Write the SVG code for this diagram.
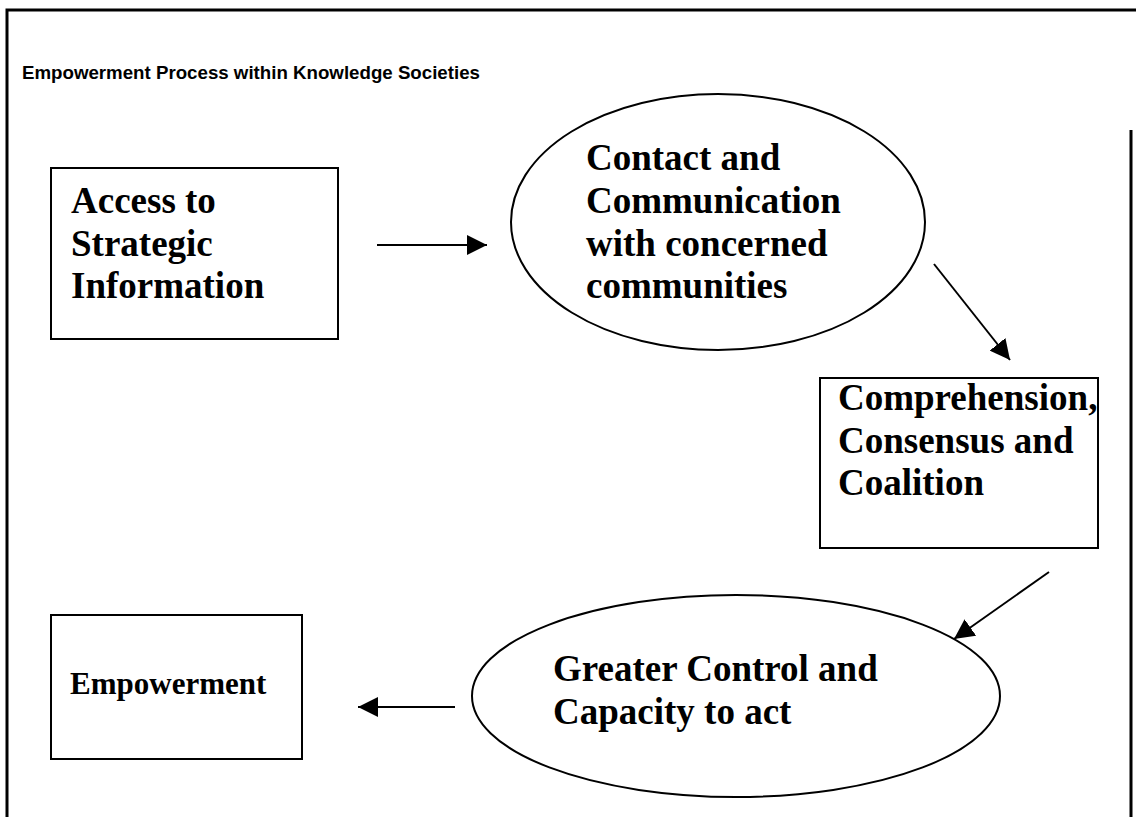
<svg xmlns="http://www.w3.org/2000/svg" width="1136" height="817" viewBox="0 0 1136 817">
<style>
.frame{fill:none;stroke:#000;stroke-width:3}
.shape{fill:#fff;stroke:#000;stroke-width:2}
.lbl{font-family:"Liberation Serif","Times New Roman",serif;font-weight:bold;font-size:37px;fill:#000}
.title{font-family:"Liberation Sans",Arial,sans-serif;font-weight:bold;font-size:18.7px;fill:#000}
.conn line{stroke:#000;stroke-width:2}
</style>
<defs>
<marker id="ah" viewBox="0 0 20 20" refX="20" refY="10" markerWidth="20" markerHeight="20" markerUnits="userSpaceOnUse" orient="auto">
<path d="M0,0 L20,10 L0,20 Z" fill="#000"/>
</marker>
</defs>
<rect width="1136" height="817" fill="#fff"/>
<g id="frame">
<polyline class="frame" points="7,817 7,10 1136,10"/>
<line class="frame" x1="1131" y1="130" x2="1131" y2="817"/>
</g>
<text class="title" x="22" y="79">Empowerment Process within Knowledge Societies</text>
<g id="n-access">
<rect class="shape" x="51" y="168" width="287" height="171"/>
<text class="lbl" x="71" y="213">Access to</text>
<text class="lbl" x="71" y="256">Strategic</text>
<text class="lbl" x="71" y="298">Information</text>
</g>
<g id="n-contact">
<ellipse class="shape" cx="718" cy="222" rx="207" ry="128"/>
<text class="lbl" x="586" y="170">Contact and</text>
<text class="lbl" x="586" y="213">Communication</text>
<text class="lbl" x="586" y="256">with concerned</text>
<text class="lbl" x="586" y="298">communities</text>
</g>
<g id="n-comprehension">
<rect class="shape" x="820" y="378" width="278" height="170"/>
<text class="lbl" x="838" y="410">Comprehension,</text>
<text class="lbl" x="838" y="453">Consensus and</text>
<text class="lbl" x="838" y="495">Coalition</text>
</g>
<g id="n-control">
<ellipse class="shape" cx="736" cy="696" rx="264" ry="101"/>
<text class="lbl" x="553" y="681">Greater Control and</text>
<text class="lbl" x="553" y="724">Capacity to act</text>
</g>
<g id="n-empowerment">
<rect class="shape" x="51" y="615" width="251" height="144"/>
<text class="lbl" x="70" y="694" style="font-size:31px">Empowerment</text>
</g>
<g class="conn" id="connectors">
<line x1="377" y1="245" x2="487" y2="245" marker-end="url(#ah)"/>
<line x1="934" y1="264" x2="1010" y2="360" marker-end="url(#ah)"/>
<line x1="1049" y1="572" x2="954" y2="639" marker-end="url(#ah)"/>
<line x1="455" y1="707" x2="358" y2="707" marker-end="url(#ah)"/>
</g>
</svg>
